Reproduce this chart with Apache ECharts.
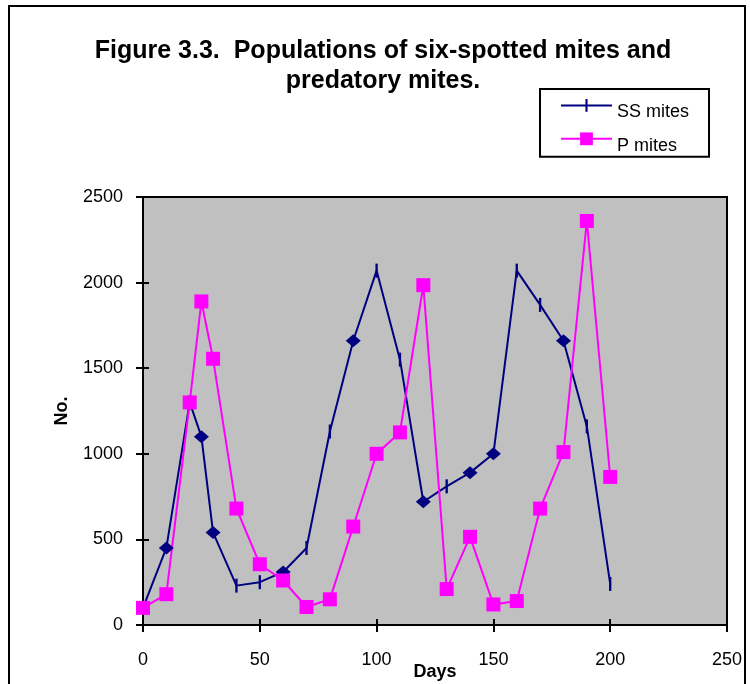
<!DOCTYPE html>
<html>
<head>
<meta charset="utf-8">
<script src="https://cdn.jsdelivr.net/npm/echarts@6/dist/echarts.min.js"></script>
<style>
  html, body { margin: 0; padding: 0; background: #fff; }
  #main { width: 750px; height: 684px; }
</style>
</head>
<body>
<div id="main"></div>
<script>
const days = [0, 10, 20, 25, 30, 40, 50, 60, 70, 80, 90, 100, 110, 120, 130, 140, 150, 160, 170, 180, 190, 200];
const ssMites = [100, 450, 1300, 1100, 540, 230, 250, 310, 450, 1130, 1660, 2070, 1550, 720, 810, 890, 1000, 2070, 1870, 1660, 1160, 240];
// which SS points Excel drew as diamonds (the rest are tick marks)
const ssDiamond = [0, 1, 0, 1, 1, 0, 0, 1, 0, 0, 1, 0, 0, 1, 0, 1, 1, 0, 0, 1, 0, 0];
const pMites = [100, 180, 1300, 1890, 1555, 680, 355, 260, 105, 150, 575, 1000, 1125, 1985, 210, 515, 120, 140, 680, 1010, 2360, 865];
const xTicks = [0, 250, 50];
const yTicks = [0, 2500, 500];

const font = "Liberation Sans, Arial, sans-serif";
// thin vertical bar inside a square box, so it keeps its shape in the legend too
const tickSymbol = "path://M-5,0M7,12M0,0h2v12h-2z";

const ssData = days.map((d, i) => ssDiamond[i]
  ? { value: [d, ssMites[i]], symbol: "diamond", symbolSize: [15, 13] }
  : { value: [d, ssMites[i]] });
const pData = days.map((d, i) => [d, pMites[i]]);

const labelStyle = { fontFamily: font, fontSize: 18, color: "#000" };
const nameStyle = { fontFamily: font, fontSize: 18, fontWeight: "bold", color: "#000" };
const tickLine = { color: "#000", width: 2 };

// main axes carry outside ticks, twin axes add the inside half so ticks cross the line
function xAxis(inner) {
  return {
    type: "value",
    min: xTicks[0], max: xTicks[1], interval: xTicks[2],
    name: inner ? "" : "Days",
    nameLocation: "middle",
    nameGap: 38,
    nameMoveOverlap: false,
    nameTextStyle: nameStyle,
    position: "bottom",
    axisLine: { show: !inner, lineStyle: tickLine },
    axisTick: { inside: inner, length: inner ? 6 : 7, lineStyle: tickLine },
    axisLabel: { show: !inner, margin: 26, ...labelStyle },
    splitLine: { show: false }
  };
}
function yAxis(inner) {
  return {
    type: "value",
    min: yTicks[0], max: yTicks[1], interval: yTicks[2],
    name: inner ? "" : "No.",
    nameLocation: "middle",
    nameRotate: 90,
    nameGap: 72,
    nameMoveOverlap: false,
    nameTextStyle: nameStyle,
    position: "left",
    axisLine: { show: !inner, lineStyle: tickLine },
    axisTick: { inside: inner, length: inner ? 6 : 7, lineStyle: tickLine },
    axisLabel: { show: !inner, margin: 20, formatter: (v) => String(v), ...labelStyle },
    splitLine: { show: false }
  };
}

const options = {
  animation: false,
  backgroundColor: "#fff",
  textStyle: { fontFamily: font },
  title: {
    text: "Figure 3.3.  Populations of six-spotted mites and\npredatory mites.",
    left: 378,
    top: 31,
    textAlign: "center",
    textStyle: { fontFamily: font, fontSize: 25, fontWeight: "bold", color: "#000", lineHeight: 30 }
  },
  legend: {
    orient: "vertical",
    left: 540,
    top: 89,
    padding: [10, 20, 2, 20],
    itemGap: 11,
    itemWidth: 51,
    itemHeight: 16,
    borderColor: "#000",
    borderWidth: 2,
    formatter: (name) => "{t|" + name + "}",
    textStyle: {
      fontFamily: font, fontSize: 18, color: "#000",
      rich: { t: { fontFamily: font, fontSize: 18, color: "#000", padding: [14, 0, 0, 0] } }
    },
    data: ["SS mites", "P mites"]
  },
  grid: {
    left: 143, top: 197, right: 23, bottom: 59,
    outerBoundsMode: "none",
    containLabel: false,
    show: true,
    backgroundColor: "#c0c0c0",
    borderColor: "#000",
    borderWidth: 2
  },
  xAxis: [xAxis(false), xAxis(true)],
  yAxis: [yAxis(false), yAxis(true)],
  series: [
    {
      name: "SS mites",
      type: "line",
      data: ssData,
      symbol: tickSymbol,
      symbolSize: 14,
      showAllSymbol: true,
      color: "#000080",
      lineStyle: { color: "#000080", width: 2 },
      itemStyle: { color: "#000080" }
    },
    {
      name: "P mites",
      type: "line",
      data: pData,
      symbol: "rect",
      symbolSize: 14,
      showAllSymbol: true,
      color: "#ff00ff",
      lineStyle: { color: "#ff00ff", width: 2 },
      itemStyle: { color: "#ff00ff" }
    }
  ],
  graphic: [
    {
      type: "rect",
      shape: { x: 9, y: 6, width: 736, height: 700 },
      style: { fill: "none", stroke: "#000", lineWidth: 2 },
      silent: true
    }
  ]
};

const myChart = echarts.init(document.getElementById("main"));
myChart.setOption(options);
</script>
</body>
</html>
